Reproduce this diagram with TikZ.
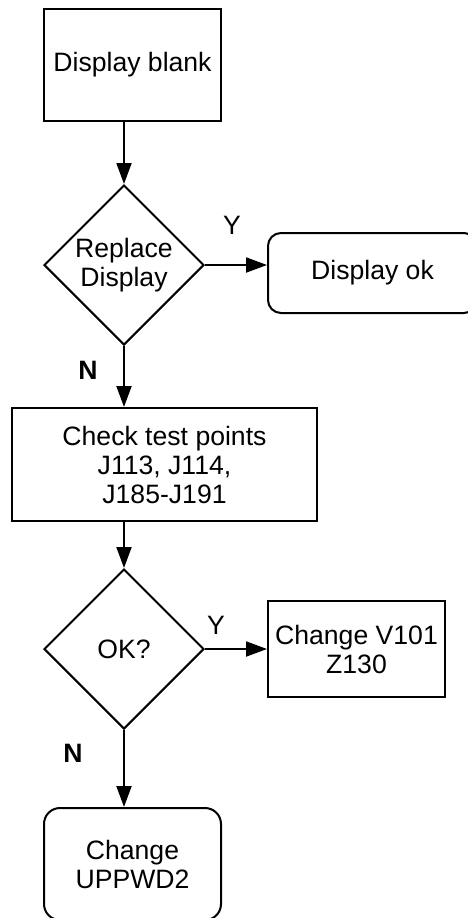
\documentclass[tikz,border=0pt]{standalone}
\usepackage{fontspec}
\setmainfont{Liberation Sans}
\usetikzlibrary{shapes.geometric,arrows.meta}

\begin{document}
\begin{tikzpicture}[x=1pt,y=-1pt,line width=2pt,
  font=\fontsize{26.6}{29}\selectfont,
  box/.style={draw,rectangle,align=center,inner sep=0pt},
  rbox/.style={box,rounded corners=13pt},
  ask/.style={draw,diamond,aspect=1,align=center,inner sep=0pt,minimum width=160pt,minimum height=160pt},
  arr/.style={-{Triangle[length=21pt,width=15pt]}}]
  \clip (0,0) rectangle (468,918);
  \node[box,minimum width=177pt,minimum height=112pt] (blank) at (132.5,65) {Display blank};
  \node[ask] (repl) at (124,265) {Replace\\Display};
  \node[rbox,minimum width=209pt,minimum height=80pt] (dok) at (372.5,273) {Display ok};
  \node[box,minimum width=305pt,minimum height=113pt] (chk) at (164.5,464.5) {Check test points\\J113, J114,\\J185-J191};
  \node[ask] (isok) at (124,649) {OK?};
  \node[box,minimum width=177pt,minimum height=96pt] (chg) at (356.5,649) {Change V101\\Z130};
  \node[rbox,rounded corners=16pt,minimum width=177pt,minimum height=112pt] (upp) at (132.5,864) {Change\\UPPWD2};
  \draw[arr] (blank.south -| repl.north) -- (repl.north);
  \draw[arr] (repl.east) -- (repl.east -| dok.west);
  \draw[arr] (repl.south) -- (repl.south |- chk.north);
  \draw[arr] (chk.south -| isok.north) -- (isok.north);
  \draw[arr] (isok.east) -- (chg.west);
  \draw[arr] (isok.south) -- (isok.south |- upp.north);
  \node (y1) at (232,225) {Y};
  \node[font=\fontsize{26.6}{29}\selectfont\bfseries] (n1) at (88,370) {N};
  \node (y2) at (216,625) {Y};
  \node[font=\fontsize{26.6}{29}\selectfont\bfseries] (n2) at (73,753) {N};
\end{tikzpicture}
\end{document}
